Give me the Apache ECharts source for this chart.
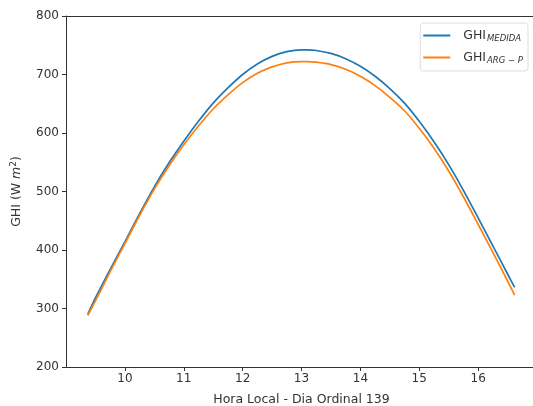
<!DOCTYPE html>
<html>
<head>
<meta charset="utf-8">
<script src="https://cdn.jsdelivr.net/npm/echarts@6/dist/echarts.min.js"></script>
<style>html,body{margin:0;padding:0;background:#fff}#c{width:533px;height:406px}</style>
</head>
<body>
<div id="c"></div>
<script>
const hours = [9.37, 9.5, 9.75, 10, 10.25, 10.5, 10.75, 11, 11.25, 11.5, 11.75, 12, 12.25, 12.5, 12.75, 13, 13.1, 13.25, 13.5, 13.75, 14, 14.25, 14.5, 14.75, 15, 15.25, 15.5, 15.75, 16, 16.25, 16.5, 16.62];
const ghiMedida = [290, 318, 367, 414, 462, 508, 549, 586, 620, 651, 677, 700, 718, 731, 739, 742, 742, 741, 736, 727, 714, 697, 676, 651, 620, 585, 546, 502, 455, 407, 359, 336];
const ghiArgP = [288, 313, 363, 411, 459, 504, 544, 580, 612, 641, 665, 686, 702, 713, 720, 722, 722, 721, 717, 709, 697, 681, 661, 638, 608, 574, 535, 491, 444, 396, 347, 323];
const xTicks = [10, 11, 12, 13, 14, 15, 16];
const yTicks = [200, 300, 400, 500, 600, 700, 800];

const font = 'DejaVu Sans';
const chart = echarts.init(document.getElementById('c'));
const pairs = arr => hours.map((h, i) => [h, arr[i]]);
chart.setOption({
  animation: false,
  grid: { left: 66, right: -4, top: 16, bottom: 39, show: false,
          outerBoundsMode: 'none', containLabel: false },
  xAxis: [{
    type: 'value', min: 9, max: 17,
    name: 'Hora Local - Dia Ordinal 139', nameLocation: 'middle', nameGap: 26,
    nameTextStyle: { fontFamily: font, fontSize: 12.5, color: '#333', verticalAlign: 'top' },
    axisLine: { show: true, lineStyle: { color: '#333' } },
    axisTick: { show: true, length: 4, lineStyle: { color: '#333' }, customValues: xTicks },
    axisLabel: { customValues: xTicks, fontFamily: font, fontSize: 12, color: '#333', margin: 6 },
    splitLine: { show: false }
  }, {
    type: 'value', min: 9, max: 17, position: 'top',
    axisLine: { show: true, onZero: false, lineStyle: { color: '#333' } },
    axisTick: { show: false }, axisLabel: { show: false }, splitLine: { show: false }
  }],
  yAxis: {
    type: 'value', min: 200, max: 800, interval: 100,
    name: 'GHI (W {i|m}{s|2})', nameLocation: 'middle', nameGap: 42,
    nameTextStyle: { fontFamily: font, fontSize: 12.5, color: '#333',
      rich: { i: { fontFamily: font, fontSize: 12.5, fontStyle: 'italic', color: '#333' },
              s: { fontFamily: font, fontSize: 9, color: '#333', verticalAlign: 'top', padding: [0, 0, 6, 0] } } },
    axisLine: { show: true, lineStyle: { color: '#333' } },
    axisTick: { show: true, length: 4, lineStyle: { color: '#333' } },
    axisLabel: { customValues: yTicks, fontFamily: font, fontSize: 12, color: '#333', margin: 7 },
    splitLine: { show: false }
  },
  legend: {
    right: 5, top: 23, orient: 'vertical', itemWidth: 27, itemHeight: 2, itemGap: 8,
    icon: 'rect', borderColor: '#ddd', borderWidth: 1, borderRadius: 3, padding: [6, 5, 6, 3],
    backgroundColor: '#fff',
    formatter: name => name === 'm' ? 'GHI{s|MEDIDA}' : 'GHI{s|ARG − P}',
    textStyle: { fontFamily: font, fontSize: 12.5, color: '#333', padding: [0, 0, 0, 8],
      rich: { s: { fontFamily: font, fontSize: 8.5, fontStyle: 'italic', color: '#333', padding: [6, 0, 0, 1] } } },
    data: ['m', 'a']
  },
  series: [
    { name: 'm', type: 'line', data: pairs(ghiMedida), showSymbol: false, smooth: 0.3,
      lineStyle: { color: '#1f77b4', width: 1.7 }, itemStyle: { color: '#1f77b4' } },
    { name: 'a', type: 'line', data: pairs(ghiArgP), showSymbol: false, smooth: 0.3,
      lineStyle: { color: '#ff7f0e', width: 1.7 }, itemStyle: { color: '#ff7f0e' } }
  ]
});
</script>
</body>
</html>
